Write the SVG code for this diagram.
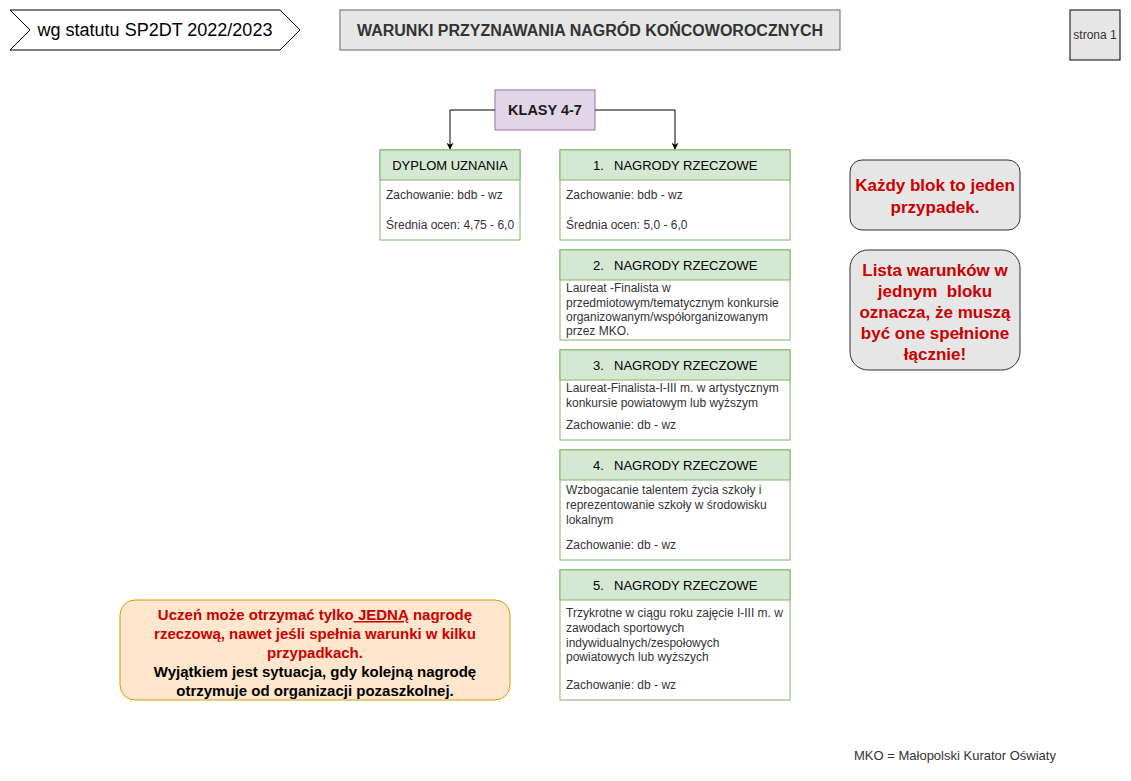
<svg xmlns="http://www.w3.org/2000/svg" width="1131" height="781" viewBox="0 0 1131 781">
<style>
text{font-family:"Liberation Sans",Arial,sans-serif;}
.hdr{fill:#d5e8d4;stroke:#82b366;stroke-width:1;}
.body{fill:#ffffff;stroke:#82b366;stroke-width:1;}
.ht{font-size:13px;fill:#000;text-anchor:middle;}
.hs{font-size:13px;fill:#000;text-anchor:start;}
.bt{font-size:12px;fill:#333;}
.red{font-size:17px;font-weight:bold;fill:#cc0000;text-anchor:middle;}
.note{fill:#e6e6e6;stroke:#333;stroke-width:1;}
.edge{fill:none;stroke:#000;stroke-width:1;}
.u{font-size:15px;font-weight:bold;text-anchor:middle;}
</style>
<defs>
<marker id="arr" viewBox="0 0 10 10" refX="9" refY="5" markerWidth="7" markerHeight="7" orient="auto" markerUnits="userSpaceOnUse">
<path d="M0,0 L10,5 L0,10 L3,5 Z" fill="#000"/>
</marker>
</defs>
<rect width="1131" height="781" fill="#fff"/>

<g id="statut">
<polygon points="10,10 280,10 300,30 280,50 10,50 30,30" fill="#fff" stroke="#000"/>
<text x="155" y="36" font-size="18" text-anchor="middle" fill="#000">wg statutu SP2DT 2022/2023</text>
</g>

<g id="title">
<rect x="340" y="10" width="500" height="40" fill="#e6e6e6" stroke="#666"/>
<text x="590" y="36" font-size="16" font-weight="bold" text-anchor="middle" fill="#333">WARUNKI PRZYZNAWANIA NAGRÓD KOŃCOWOROCZNYCH</text>
</g>

<g id="strona">
<rect x="1070" y="10" width="50" height="50" fill="#e6e6e6" stroke="#000"/>
<text x="1095" y="39" font-size="12" text-anchor="middle" fill="#333">strona 1</text>
</g>

<g id="klasy">
<rect x="495" y="90" width="100" height="40" fill="#e1d5e7" stroke="#9673a6"/>
<text x="545" y="115" font-size="14.5" font-weight="bold" text-anchor="middle" fill="#1a1a1a">KLASY 4-7</text>
</g>

<g id="connectors">
<path class="edge" d="M495,110 L450,110 L450,149" marker-end="url(#arr)"/>
<path class="edge" d="M595,110 L675,110 L675,149" marker-end="url(#arr)"/>
</g>

<g id="dyplom">
<rect class="body" x="380" y="150" width="140" height="90"/>
<rect class="hdr" x="380" y="150" width="140" height="30"/>
<text class="ht" x="450" y="170">DYPLOM UZNANIA</text>
<text class="bt" x="386" y="199">Zachowanie: bdb - wz</text>
<text class="bt" x="386" y="229">Średnia ocen: 4,75 - 6,0</text>
</g>

<g id="nagrody1">
<rect class="body" x="560" y="150" width="230" height="90"/>
<rect class="hdr" x="560" y="150" width="230" height="30"/>
<text class="hs" x="593" y="170">1.</text>
<text class="hs" x="614" y="170">NAGRODY RZECZOWE</text>
<text class="bt" x="566" y="199">Zachowanie: bdb - wz</text>
<text class="bt" x="566" y="229">Średnia ocen: 5,0 - 6,0</text>
</g>

<g id="nagrody2">
<rect class="body" x="560" y="250" width="230" height="90"/>
<rect class="hdr" x="560" y="250" width="230" height="30"/>
<text class="hs" x="593" y="270">2.</text>
<text class="hs" x="614" y="270">NAGRODY RZECZOWE</text>
<text class="bt" x="566" y="292">Laureat -Finalista w</text>
<text class="bt" x="566" y="307">przedmiotowym/tematycznym konkursie</text>
<text class="bt" x="566" y="321">organizowanym/współorganizowanym</text>
<text class="bt" x="566" y="335">przez MKO.</text>
</g>

<g id="nagrody3">
<rect class="body" x="560" y="350" width="230" height="90"/>
<rect class="hdr" x="560" y="350" width="230" height="30"/>
<text class="hs" x="593" y="370">3.</text>
<text class="hs" x="614" y="370">NAGRODY RZECZOWE</text>
<text class="bt" x="566" y="392">Laureat-Finalista-I-III m. w artystycznym</text>
<text class="bt" x="566" y="407">konkursie powiatowym lub wyższym</text>
<text class="bt" x="566" y="429">Zachowanie: db - wz</text>
</g>

<g id="nagrody4">
<rect class="body" x="560" y="450" width="230" height="110"/>
<rect class="hdr" x="560" y="450" width="230" height="30"/>
<text class="hs" x="593" y="470">4.</text>
<text class="hs" x="614" y="470">NAGRODY RZECZOWE</text>
<text class="bt" x="566" y="494">Wzbogacanie talentem życia szkoły i</text>
<text class="bt" x="566" y="509">reprezentowanie szkoły w środowisku</text>
<text class="bt" x="566" y="524">lokalnym</text>
<text class="bt" x="566" y="549">Zachowanie: db - wz</text>
</g>

<g id="nagrody5">
<rect class="body" x="560" y="570" width="230" height="130"/>
<rect class="hdr" x="560" y="570" width="230" height="30"/>
<text class="hs" x="593" y="590">5.</text>
<text class="hs" x="614" y="590">NAGRODY RZECZOWE</text>
<text class="bt" x="566" y="617">Trzykrotne w ciągu roku zajęcie I-III m. w</text>
<text class="bt" x="566" y="632">zawodach sportowych</text>
<text class="bt" x="566" y="647">indywidualnych/zespołowych</text>
<text class="bt" x="566" y="661">powiatowych lub wyższych</text>
<text class="bt" x="566" y="689">Zachowanie: db - wz</text>
</g>

<g id="note1">
<rect class="note" x="850" y="160" width="170" height="70" rx="12" ry="12"/>
<text class="red" x="935" y="191">Każdy blok to jeden</text>
<text class="red" x="935" y="213">przypadek.</text>
</g>

<g id="note2">
<rect class="note" x="850" y="250" width="170" height="120" rx="18" ry="18"/>
<text class="red" x="935" y="276">Lista warunków w</text>
<text class="red" x="935" y="297" xml:space="preserve">jednym  bloku</text>
<text class="red" x="935" y="318">oznacza, że muszą</text>
<text class="red" x="935" y="339">być one spełnione</text>
<text class="red" x="935" y="360">łącznie!</text>
</g>

<g id="uwaga">
<rect x="120" y="600" width="390" height="100" rx="15" ry="15" fill="#ffe6cc" stroke="#d79b00"/>
<text class="u" x="315" y="620" fill="#cc0000" xml:space="preserve">Uczeń może otrzymać tylko<tspan text-decoration="underline"> JEDNĄ</tspan> nagrodę</text>
<text class="u" x="315" y="639" fill="#cc0000">rzeczową, nawet jeśli spełnia warunki w kilku</text>
<text class="u" x="315" y="658" fill="#cc0000">przypadkach.</text>
<text class="u" x="315" y="677" fill="#000">Wyjątkiem jest sytuacja, gdy kolejną nagrodę</text>
<text class="u" x="315" y="696" fill="#000">otrzymuje od organizacji pozaszkolnej.</text>
</g>

<g id="mko">
<text x="955" y="760" font-size="13" text-anchor="middle" fill="#333">MKO = Małopolski Kurator Oświaty</text>
</g>
</svg>
